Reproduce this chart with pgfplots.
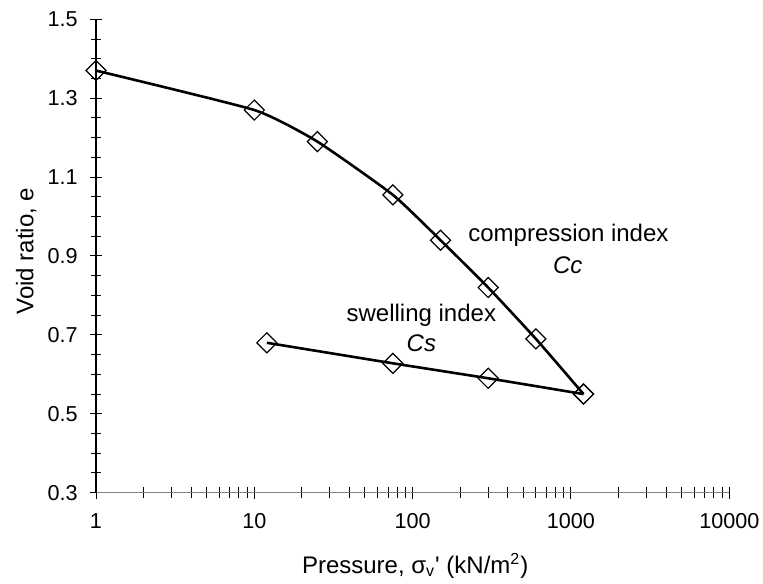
\documentclass[border=0pt]{standalone}
\usepackage{pgfplots}
\pgfplotsset{compat=1.18}
\usepackage{fontspec}
\setmainfont{Liberation Sans}

% e - log p curve of an oedometer test: loading branch and unloading branch
\pgfplotstableread{
p     e
1     1.370
10    1.270
25    1.190
75    1.055
150   0.940
300   0.820
600   0.690
1200  0.550
}\loading
\pgfplotstableread{
p     e
1200  0.550
300   0.590
75    0.628
12    0.680
}\unloading

\begin{document}
\begin{tikzpicture}
\useasboundingbox (0,0) rectangle (381.5pt,291.5pt);
\begin{axis}[
  at={(48pt,45.15pt)}, anchor=south west,
  scale only axis, width=316.65pt, height=236.7pt,
  xmode=log, xmin=1, xmax=10000, ymin=0.3, ymax=1.5,
  axis x line*=bottom, axis y line*=left,
  x axis line style={draw=black!50, line width=0.6pt},
  y axis line style={draw=black, line width=0.6pt},
  xtick={1,10,100,1000,10000},
  xticklabels={1,10,100,1000,10000},
  minor xtick={2,3,4,5,6,7,8,9,20,30,40,50,60,70,80,90,200,300,400,500,600,700,800,900,2000,3000,4000,5000,6000,7000,8000,9000},
  ytick={0.3,0.5,0.7,0.9,1.1,1.3,1.5},
  yticklabels={0.3,0.5,0.7,0.9,1.1,1.3,1.5},
  minor ytick={0.35,0.4,0.45,0.55,0.6,0.65,0.75,0.8,0.85,0.95,1.0,1.05,1.15,1.2,1.25,1.35,1.4,1.45},
  tick align=center, major tick length=6pt, minor tick length=5.5pt,
  every tick/.style={black, line width=0.5pt},
  tick label style={font=\fontsize{10.8}{12}\selectfont},
  xticklabel style={anchor=north, inner sep=0pt, yshift=-7.4pt},
  yticklabel style={anchor=east, inner sep=0pt, xshift=-6pt},
  xlabel={Pressure, σ\textsubscript{v}\textquotesingle\ (kN/m\textsuperscript{2})},
  ylabel={Void ratio, e},
  label style={font=\fontsize{12}{14}\selectfont},
  xlabel style={at={(axis description cs:0.504,0)}, anchor=base, inner sep=0pt, yshift=-40.3pt},
  ylabel style={at={([xshift=-31.35pt]axis description cs:0,0.51)}, anchor=base, inner sep=0pt},
  clip=false,
]
\addplot[black, line width=1.3pt, smooth, tension=0.3,
  mark=square, mark size=3.54pt,
  mark options={rotate=45, solid, fill=none, line width=0.6pt}]
  table[x=p, y=e] {\loading};
\addplot[black, line width=1.3pt, smooth, tension=0.3,
  mark=square, mark size=3.54pt,
  mark options={rotate=45, solid, fill=none, line width=0.6pt}]
  table[x=p, y=e] {\unloading};

\begin{scope}[every node/.style={font=\fontsize{12}{14}\selectfont, inner sep=0pt, anchor=base}]
\node at (axis cs:963,0.936) {compression index};
\node at (axis cs:955,0.856) {\itshape Cc};
\node at (axis cs:113.5,0.7335) {swelling index};
\node at (axis cs:113.5,0.657) {\itshape Cs};
\end{scope}
\end{axis}
\end{tikzpicture}
\end{document}
